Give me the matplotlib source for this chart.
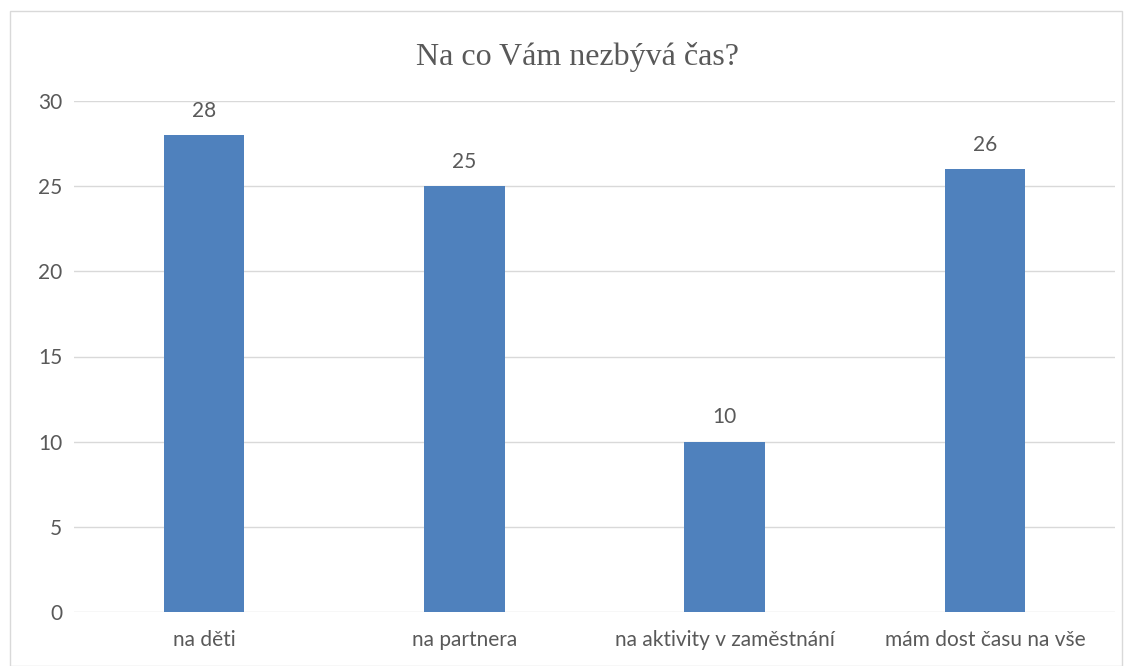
import matplotlib.pyplot as plt
from matplotlib.patches import Rectangle

categories = ["na děti", "na partnera", "na aktivity v zaměstnání", "mám dost času na vše"]
values = [28, 25, 10, 26]
yticks = [0, 5, 10, 15, 20, 25, 30]

TEXT = '#595959'
GRID = '#D9D9D9'
BAR = '#4F81BD'

plt.rcParams['font.family'] = ['Lato', 'DejaVu Sans']

fig = plt.figure(figsize=(11.32, 6.66), dpi=100)
ax = fig.add_axes([74 / 1132, 54 / 666, 1041 / 1132, 511 / 666])

# chart border like the Excel frame
fig.patches.append(Rectangle((10 / 1132, 0), 1112 / 1132, 655 / 666,
                             transform=fig.transFigure, fill=False,
                             edgecolor=GRID, linewidth=1))

x = range(len(categories))
bars = ax.bar(x, values, width=0.31, color=BAR, zorder=3)
for b, v in zip(bars, values):
    ax.text(b.get_x() + b.get_width() / 2, v + 0.85, str(v), ha='center', va='bottom',
            fontsize=15, color=TEXT)

ax.set_xlim(-0.5, len(categories) - 0.5)
ax.set_ylim(0, 30)
ax.set_yticks(yticks)
ax.set_xticks(list(x))
ax.set_xticklabels(categories)
ax.tick_params(axis='both', length=0, labelsize=15, colors=TEXT)
ax.tick_params(axis='y', pad=8.5)
ax.tick_params(axis='x', pad=13)
ax.grid(axis='y', color=GRID, linewidth=1, zorder=0)
for s in ax.spines.values():
    s.set_visible(False)

fig.text(0.51, 1 - 57 / 666, "Na co Vám nezbývá čas?", ha='center', va='center',
         fontsize=23, color=TEXT, family='Liberation Serif')

fig.savefig('out.png', dpi=100)
